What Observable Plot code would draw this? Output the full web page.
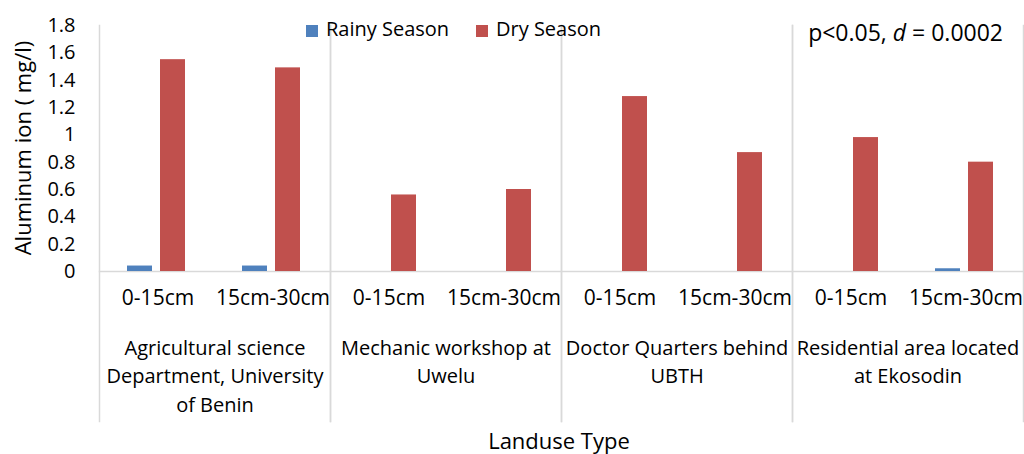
<!DOCTYPE html>
<html><head><meta charset="utf-8">
<script src="https://cdn.jsdelivr.net/npm/d3@7"></script>
<script src="https://cdn.jsdelivr.net/npm/@observablehq/plot@0.6"></script>
<style>
body{margin:0;background:#fff;font-family:"Open Sans",sans-serif;color:#000;}
#wrap{position:relative;width:1024px;height:454px;overflow:hidden;}
.abs{position:absolute;white-space:nowrap;font-size:20px;line-height:20px;}
.sw{display:inline-block;width:12px;height:12px;margin-right:8px;vertical-align:-1px;}
</style></head><body><div id="wrap"></div>
<script>
const groups = [
  "Agricultural science\nDepartment, University\nof Benin",
  "Mechanic workshop at\nUwelu",
  "Doctor Quarters behind\nUBTH",
  "Residential area located\nat Ekosodin"
];
const depths = ["0-15cm", "15cm-30cm"];
const seasons = ["Rainy Season", "Dry Season"];
const rainy = [0.04, 0.04, 0, 0, 0, 0, 0, 0.02];
const dry = [1.55, 1.49, 0.56, 0.60, 1.28, 0.87, 0.98, 0.80];
const yTicks = [0, 0.2, 0.4, 0.6, 0.8, 1, 1.2, 1.4, 1.6, 1.8];
const colors = ["#4f81bd", "#c0504d"];
const yLabel = "Aluminum ion ( mg/l)";
const xLabel = "Landuse Type";

const rows = [];
groups.forEach((g, i) => depths.forEach((d, j) => {
  const k = i * 2 + j;
  rows.push({group: g, depth: d, season: seasons[0], value: rainy[k]});
  rows.push({group: g, depth: d, season: seasons[1], value: dry[k]});
}));

const chart = Plot.plot({
  width: 1024, height: 454,
  marginLeft: 97, marginRight: 0, marginTop: 25, marginBottom: 183,
  style: {fontFamily: "Open Sans", fontSize: "20px", color: "#000", background: "#fff", overflow: "visible"},
  fx: {domain: groups, padding: 0, axis: null, label: null},
  x: {domain: depths, padding: 0, axis: null, label: null},
  y: {domain: [0, 1.8], ticks: yTicks, tickFormat: d => String(d), tickSize: 0, tickPadding: 24,
      label: null},
  marks: [
    Plot.frame({anchor: "left", stroke: "#d9d9d9", strokeWidth: 1.5, insetBottom: -150}),
    Plot.frame({anchor: "right", stroke: "#d9d9d9", strokeWidth: 1.5, insetBottom: -150}),
    Plot.frame({anchor: "bottom", stroke: "#d9d9d9", strokeWidth: 1.5}),
    Plot.axisX({tickSize: 0, tickPadding: 19, fontSize: 21, label: null}),
    Plot.barY(rows.filter(d => d.season === seasons[0]), {fx: "group", x: "depth", y: "value", fill: colors[0], insetLeft: 27, insetRight: 63}),
    Plot.barY(rows.filter(d => d.season === seasons[1]), {fx: "group", x: "depth", y: "value", fill: colors[1], insetLeft: 60, insetRight: 30}),
    Plot.text(groups, {fx: d => d, text: d => d, frameAnchor: "bottom", lineAnchor: "top", dy: 63, lineHeight: 1.43, fontSize: 20, fill: "#000"})
  ]
});
const wrap = document.getElementById("wrap");
wrap.appendChild(chart);

function addDiv(html, left, top, extra) {
  const el = document.createElement("div");
  el.className = "abs";
  el.innerHTML = html;
  if (left !== null) el.style.left = left + "px";
  el.style.top = top + "px";
  if (extra) Object.assign(el.style, extra);
  wrap.appendChild(el);
}
addDiv(`<span class="sw" style="background:${colors[0]}"></span>${seasons[0]}`, 306, 19);
addDiv(`<span class="sw" style="background:${colors[1]}"></span>${seasons[1]}`, 476, 19);
addDiv(`p&lt;0.05, <i>d</i> = 0.0002`, null, 21, {right: "21px", fontSize: "23px", lineHeight: "23px"});
addDiv(xLabel, 0, 429, {width: "1118px", textAlign: "center", fontSize: "22px", lineHeight: "22px"});
addDiv(yLabel, 22, 148, {fontSize: "22px", lineHeight: "22px", transform: "translate(-50%,-50%) rotate(-90deg)"});
</script></body></html>
